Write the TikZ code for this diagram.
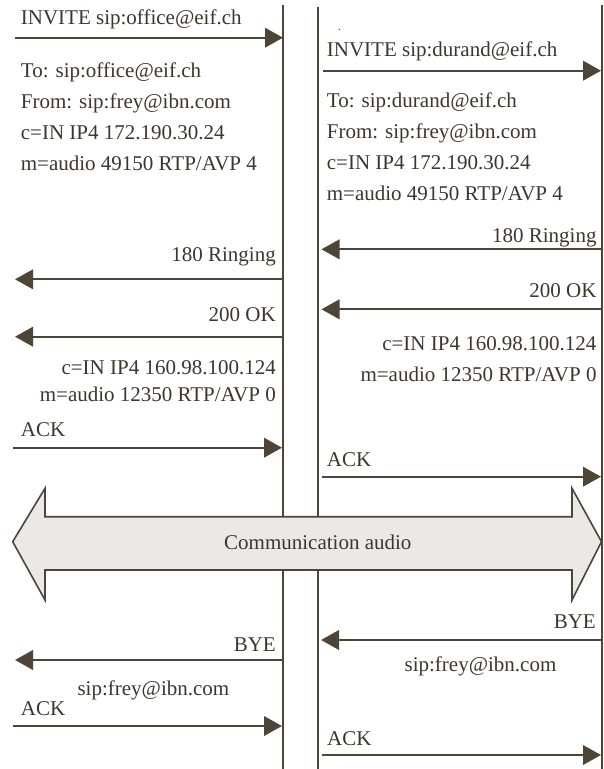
\documentclass[tikz,border=0pt]{standalone}
\usepackage{fontspec}
\setmainfont{Liberation Serif}
\usetikzlibrary{arrows.meta}
\definecolor{linecol}{RGB}{78,68,56}
\definecolor{textcol}{RGB}{62,53,43}
\definecolor{bandfill}{RGB}{235,233,231}
\begin{document}
\begin{tikzpicture}[x=1pt,y=-1pt,
  txt/.style={font=\fontsize{21}{24}\selectfont, inner sep=0pt, text=textcol},
  lw/.style={txt, anchor=base west},
  le/.style={txt, anchor=base east},
  lc/.style={txt, anchor=base},
  life/.style={draw=linecol, line width=2pt},
  msg/.style={draw=linecol, line width=2.1pt, -{Triangle[length=18pt,width=19.5pt]}, color=linecol},
  band/.style={draw=linecol, line width=1.6pt, fill=bandfill, line join=miter}]
\useasboundingbox (0,0) rectangle (603,769);
% lifelines
\coordinate (A0) at (283.3,5);   \coordinate (A1) at (283.3,769);
\coordinate (B0) at (318.3,6.7); \coordinate (B1) at (318.3,769);
\coordinate (C0) at (601.5,5);   \coordinate (C1) at (601.5,769);
\draw[life] (A0) -- (A1);
\draw[life] (B0) -- (B1);
\draw[life] (C0) -- (C1);
\fill[linecol] (339.3,29.3) circle (0.8pt);
% left texts
\node[lw] (linv) at (20.7,24) {INVITE sip:office@eif.ch};
\node[lw] (lto) at (20.7,77.5) {To: sip:office@eif.ch};
\node[lw] (lfrom) at (20.7,108.5) {From: sip:frey@ibn.com};
\node[lw] (lcc) at (20.7,139.5) {c=IN IP4 172.190.30.24};
\node[lw] (lmm) at (20.7,170) {m=audio 49150 RTP/AVP 4};
\node[le] (l180) at (276,261) {180 Ringing};
\node[le] (l200) at (276,321.7) {200 OK};
\node[le] (lc2) at (276,374) {c=IN IP4 160.98.100.124};
\node[le] (lm2) at (276,401) {m=audio 12350 RTP/AVP 0};
\node[lw] (lack1) at (20.7,436.7) {ACK};
\node[le] (lbye) at (276,651.7) {BYE};
\node[lc] (lsip) at (153.4,695) {sip:frey@ibn.com};
\node[lw] (lack2) at (20.7,715) {ACK};
% right texts
\node[lw] (rinv) at (326.7,56.7) {INVITE sip:durand@eif.ch};
\node[lw] (rto) at (326.7,107) {To: sip:durand@eif.ch};
\node[lw] (rfrom) at (326.7,138) {From: sip:frey@ibn.com};
\node[lw] (rcc) at (326.7,169) {c=IN IP4 172.190.30.24};
\node[lw] (rmm) at (326.7,200) {m=audio 49150 RTP/AVP 4};
\node[le] (r180) at (596.7,242.7) {180 Ringing};
\node[le] (r200) at (596.7,297.7) {200 OK};
\node[le] (rc2) at (596.7,350) {c=IN IP4 160.98.100.124};
\node[le] (rm2) at (596.7,381.7) {m=audio 12350 RTP/AVP 0};
\node[lw] (rack1) at (326.7,466) {ACK};
\node[le] (rbye) at (596,628.3) {BYE};
\node[lc] (rsip) at (480.5,671) {sip:frey@ibn.com};
\node[lw] (rack2) at (327,745.7) {ACK};
% left messages
\coordinate (m1a) at (15,37.7);   \coordinate (m1b) at (283,37.7);
\coordinate (m2a) at (283,279.3); \coordinate (m2b) at (15,279.3);
\coordinate (m3a) at (283,336.7); \coordinate (m3b) at (15,336.7);
\coordinate (m4a) at (13,447.7);  \coordinate (m4b) at (282,447.7);
\coordinate (m5a) at (283,660);   \coordinate (m5b) at (15,660);
\coordinate (m6a) at (13,726);    \coordinate (m6b) at (282,726);
\draw[msg] (m1a) -- (m1b);
\draw[msg] (m2a) -- (m2b);
\draw[msg] (m3a) -- (m3b);
\draw[msg] (m4a) -- (m4b);
\draw[msg] (m5a) -- (m5b);
\draw[msg] (m6a) -- (m6b);
% right messages
\coordinate (n1a) at (323,70.7);  \coordinate (n1b) at (601,70.7);
\coordinate (n2a) at (601,249.3); \coordinate (n2b) at (321.5,249.3);
\coordinate (n3a) at (601,309.3); \coordinate (n3b) at (321.5,309.3);
\coordinate (n4a) at (322,476.7); \coordinate (n4b) at (601,476.7);
\coordinate (n5a) at (601,640);   \coordinate (n5b) at (321,640);
\coordinate (n6a) at (322,755);   \coordinate (n6b) at (601,755);
\draw[msg] (n1a) -- (n1b);
\draw[msg] (n2a) -- (n2b);
\draw[msg] (n3a) -- (n3b);
\draw[msg] (n4a) -- (n4b);
\draw[msg] (n5a) -- (n5b);
\draw[msg] (n6a) -- (n6b);
% communication band
\draw[band] (12.7,541.7) -- (45,488.3) -- (45,516.7) -- (572,516.7) -- (572,488.3)
  -- (601.5,541.7) -- (572,600) -- (572,570) -- (45,570) -- (45,600) -- cycle;
\node[lc] (comm) at (317.8,549.5) {Communication audio};
\end{tikzpicture}
\end{document}
